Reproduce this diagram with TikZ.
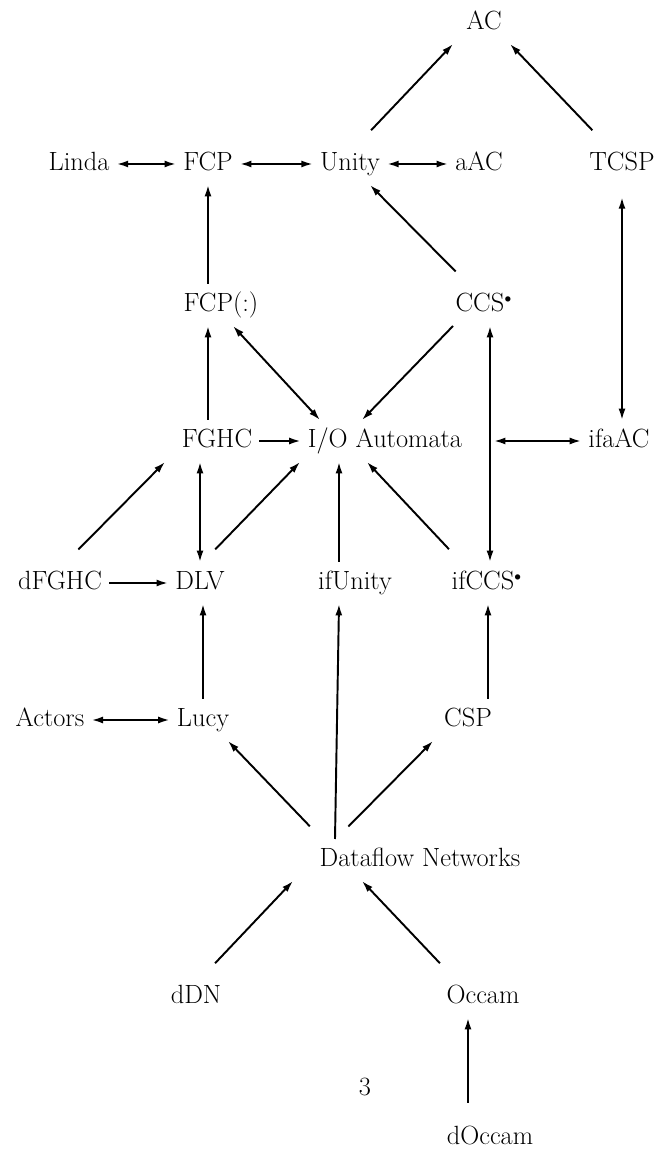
\documentclass[tikz,border=0pt]{standalone}
\usetikzlibrary{arrows.meta}

\begin{document}
\begin{tikzpicture}[font=\fontsize{15}{18}\selectfont,
  lang/.style={inner xsep=4pt,inner ysep=5pt,text height=10.5pt,text depth=3pt},
  wire/.style={line width=1.1pt},
  >={Latex[length=6.5pt,width=4pt]},
  diag/.style={->,wire,shorten <=10pt}]
  \useasboundingbox (0,0) rectangle (13.2,23.08);
  % languages, row by row
  \foreach \n/\x/\y/\t in {ac/9.68/22.62/AC,
      linda/1.58/19.80/Linda, fcp/4.16/19.80/FCP, unity/7.00/19.80/Unity, aac/9.58/19.80/aAC, tcsp/12.44/19.80/TCSP,
      fcpc/4.42/16.98/FCP(:), ccs/9.68/16.98/CCS$^{\scriptscriptstyle\bullet}$,
      fghc/4.34/14.26/FGHC, io/7.70/14.26/{I/O Automata}, ifaac/12.38/14.26/ifaAC,
      dfghc/1.20/11.42/dFGHC, dlv/4.00/11.42/DLV, ifunity/7.10/11.42/ifUnity, ifccs/9.74/11.42/ifCCS$^{\scriptscriptstyle\bullet}$,
      actors/1.00/8.68/Actors, lucy/4.06/8.68/Lucy, csp/9.36/8.68/CSP,
      dfn/8.40/5.88/{Dataflow Networks},
      ddn/3.92/3.14/dDN, occam/9.66/3.14/Occam,
      doccam/9.80/0.32/dOccam}
    \node[lang] (\n) at (\x,\y) {\t};
  \node (page) at (7.30,1.34) {3};
  % top part
  \draw[diag] ([xshift=0.18cm]unity.north) -- ([xshift=-0.62cm]ac.south);
  \draw[diag] ([xshift=-0.35cm]tcsp.north) -- ([xshift=0.52cm]ac.south);
  \foreach \a/\b in {linda/fcp,fcp/unity,unity/aac} \draw[<->,wire] (\a) -- (\b);
  \draw[->,wire] (fcpc.north -| fcp) -- (fcp.south);
  \draw[diag] ([xshift=-0.32cm]ccs.north) -- ([xshift=0.40cm]unity.south);
  \draw[<->,wire,shorten >=7pt] (ifaac.north -| tcsp) -- (tcsp.south);
  % middle part
  \draw[->,wire] (fghc.north -| fcp) -- (fcpc.south -| fcp);
  \draw[<->,wire] ([xshift=-1.30cm]io.north) -- ([xshift=0.24cm]fcpc.south);
  \draw[->,wire] ([xshift=-0.62cm]ccs.south) -- ([xshift=-0.46cm]io.north);
  \draw[->,wire] (fghc) -- (io);
  \draw[<->,wire,shorten <=14pt] (io) -- (ifaac);
  \draw[<->,wire] ([xshift=0.06cm]ifccs.north) -- ([xshift=0.06cm]ifccs.north |- ccs.south);
  \draw[diag] ([xshift=0.12cm]dfghc.north) -- ([xshift=-1.04cm]fghc.south);
  \draw[<->,wire] (dlv.north) -- (dlv.north |- fghc.south);
  \draw[diag] ([xshift=0.06cm]dlv.north) -- ([xshift=-1.70cm]io.south);
  \draw[->,wire] ([xshift=-0.32cm]ifunity.north) -- ([xshift=-0.32cm]ifunity.north |- io.south);
  \draw[diag] ([xshift=-0.52cm]ifccs.north) -- ([xshift=-0.36cm]io.south);
  \draw[->,wire] (dfghc) -- (dlv);
  % bottom part
  \draw[->,wire] (lucy.north) -- (lucy.north |- dlv.south);
  \draw[<->,wire] (actors) -- (lucy);
  \draw[diag] ([xshift=-1.96cm]dfn.north) -- ([xshift=0.50cm]lucy.south);
  \draw[->,wire] ([xshift=-1.70cm]dfn.north) -- ([xshift=-0.32cm]ifunity.south);
  \draw[diag] ([xshift=-1.68cm]dfn.north) -- ([xshift=-0.70cm]csp.south);
  \draw[->,wire] ([xshift=0.40cm]csp.north) -- ([xshift=0.40cm]csp.north |- ifccs.south);
  \draw[diag] ([xshift=0.14cm]ddn.north) -- ([xshift=-2.54cm]dfn.south);
  \draw[diag] ([xshift=-0.62cm]occam.north) -- ([xshift=-1.16cm]dfn.south);
  \draw[->,wire,shorten <=8pt] ([xshift=-0.44cm]doccam.north) -- ([xshift=-0.44cm]doccam.north |- occam.south);
\end{tikzpicture}
\end{document}
